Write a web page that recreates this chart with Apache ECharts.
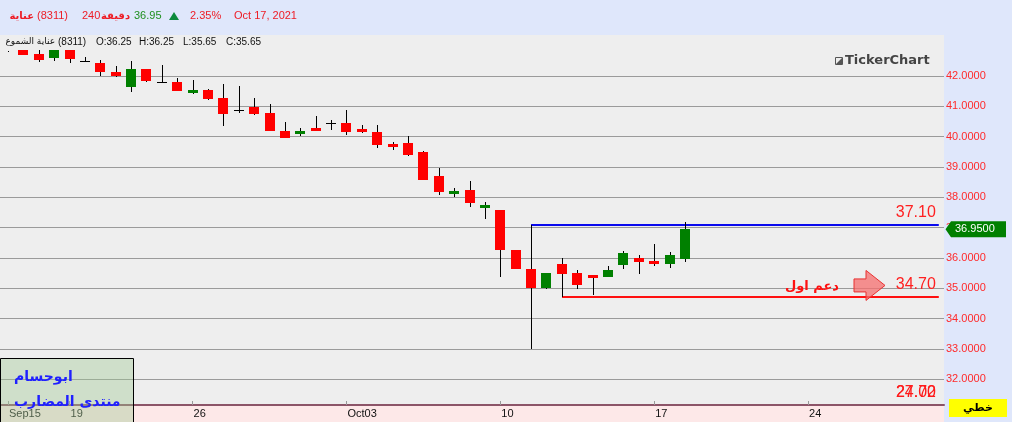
<!DOCTYPE html>
<html><head><meta charset="utf-8">
<script src="https://cdn.jsdelivr.net/npm/echarts@6/dist/echarts.min.js"></script>
<style>
html,body{margin:0;padding:0;background:#dfe7fb;overflow:hidden;}
#bgPlot{position:absolute;left:0;top:35px;width:944px;height:370px;background:#eeeeee;}
#bgAxis{position:absolute;left:0;top:405px;width:944px;height:17px;background:#fde8e8;}
#chart{position:absolute;left:0;top:0;width:1012px;height:422px;}
</style></head><body>
<div id="bgPlot"></div><div id="bgAxis"></div><div id="chart"></div>
<script>
// ---------- data ----------
const slotCount = 61; // 240-minute bars shown plus empty future slots
const dateTicks = [[0,'Sep15'],[4,'19'],[12,'26'],[22,'Oct03'],[32,'10'],[42,'17'],[52,'24']];
const opens  = [42.83,42.86,42.72,42.59,42.86,42.50,42.43,42.13,41.64,42.23,41.79,41.80,41.44,41.54,41.27,40.87,40.98,40.78,40.19,40.10,40.29,40.45,40.45,40.25,40.15,39.76,39.79,39.49,38.70,38.11,38.24,37.65,37.58,36.26,35.64,35.01,35.80,35.50,35.44,35.38,35.77,36.00,35.90,35.80,35.97];
const highs  = [42.83,42.86,42.86,42.86,42.86,42.62,42.53,42.33,42.49,42.23,42.36,41.93,41.87,41.57,41.74,41.67,41.27,41.08,40.48,40.29,40.68,40.55,40.88,40.38,40.38,39.82,40.02,39.53,38.97,38.31,38.54,37.85,37.58,36.26,37.10,35.50,36.00,35.60,35.44,35.74,36.23,36.10,36.46,36.20,37.19];
const lows   = [42.83,42.70,42.47,42.50,42.43,42.46,42.00,41.97,41.47,41.80,41.78,41.51,41.41,41.21,40.35,40.78,40.71,40.20,39.97,40.02,40.19,40.22,40.05,40.12,39.63,39.56,39.36,38.57,38.08,38.01,37.68,37.29,35.37,35.64,33.00,34.98,34.70,34.99,34.78,35.38,35.64,35.47,35.74,35.67,35.87];
const closes = [42.83,42.70,42.53,42.86,42.56,42.50,42.13,42.01,42.23,41.84,41.79,41.51,41.54,41.24,40.76,40.87,40.76,40.20,39.97,40.19,40.19,40.45,40.15,40.15,39.73,39.66,39.40,38.57,38.18,38.21,37.81,37.75,36.26,35.64,35.02,35.50,35.48,35.12,35.35,35.60,36.16,35.87,35.80,36.10,36.95];
const priceMin = 32, priceMax = 42, priceStep = 1;
const levelStarts = [34, 36];        // bar index where each drawn level starts
const levelValues = [37.10, 34.70];  // resistance, support
const lastPrice = 36.95;
const offChartLabels = ['24.00', '27.72'];

// ---------- styles / layout ----------
const levelColors = ['#0a0aee', '#ff1010'];
const UP = '#008000', DOWN = '#ff0000';
const plotTop = 35, plotBottom = 405, gridTopPx = 76, gridBottomPx = 379.33;
const ppu = (gridBottomPx - gridTopPx) / (priceMax - priceMin);
const candleYMax = priceMax + (gridTopPx - plotTop) / ppu;
const candleYMin = priceMin - (plotBottom - gridBottomPx) / ppu;
const tickMap = {}; dateTicks.forEach(t => tickMap[t[0]] = t[1]);
const slots = Array.from({length: slotCount}, (_, i) => String(i));
const candleData = opens.map((o, i) => [i, o, closes[i], lows[i], highs[i]]);
const levelData = levelValues.map((v, i) => [levelStarts[i], v]);

function renderCandle(params, api) {
  const i = api.value(0), o = api.value(1), c = api.value(2), l = api.value(3), h = api.value(4);
  const pO = api.coord([i, o]), pC = api.coord([i, c]), pL = api.coord([i, l]), pH = api.coord([i, h]);
  const bw = 10;
  const left = Math.round(pO[0] - bw / 2);
  const wx = left + 5;
  const children = [];
  if (h === l) {
    children.push({type: 'rect', shape: {x: wx, y: Math.round(pH[1]), width: 1, height: 1}, style: {fill: '#000'}});
    return {type: 'group', children};
  }
  children.push({type: 'rect', shape: {x: wx, y: Math.round(pH[1]), width: 1, height: Math.max(1, Math.round(pL[1]) - Math.round(pH[1]))}, style: {fill: '#000'}});
  if (o === c) {
    children.push({type: 'rect', shape: {x: left, y: Math.round(pO[1]), width: bw, height: 1}, style: {fill: '#000'}});
  } else {
    const top = Math.round(Math.min(pO[1], pC[1])), bot = Math.round(Math.max(pO[1], pC[1]));
    children.push({type: 'rect', shape: {x: left, y: top, width: bw, height: Math.max(1, bot - top)}, style: {fill: c > o ? UP : DOWN}});
  }
  return {type: 'group', children};
}

function renderLevel(params, api) {
  const i = api.value(0), v = api.value(1);
  const p = api.coord([i, v]);
  const right = params.coordSys.x + params.coordSys.width;
  const col = levelColors[params.dataIndex];
  const y = Math.round(p[1]);
  return {type: 'group', children: [
    {type: 'rect', shape: {x: Math.round(p[0]), y: y - 1, width: right - Math.round(p[0]), height: 2}, style: {fill: col}},
    {type: 'text', x: right - 3, y: y - 12, style: {text: v.toFixed(2), fill: '#ff2020', font: '16px "Liberation Sans", Arial, sans-serif', align: 'right', verticalAlign: 'middle'}}
  ]};
}

const chart = echarts.init(document.getElementById('chart'), null, {renderer: 'canvas'});
chart.setOption({
  backgroundColor: 'transparent',
  animation: false,
  grid: [
    {left: 0, right: 68, top: gridTopPx, bottom: 422 - gridBottomPx},
    {left: 0.3, right: 1012 - 0.3 - 938.5, top: plotTop, bottom: 422 - plotBottom}
  ],
  xAxis: [
    {gridIndex: 0, type: 'value', min: 0, max: 1, offset: plotBottom - gridBottomPx,
     axisLine: {show: true, lineStyle: {color: '#8c5468', width: 2}}, axisTick: {show: false}, axisLabel: {show: false}, splitLine: {show: false}},
    {gridIndex: 1, type: 'category', data: slots, boundaryGap: true,
     axisLine: {show: false},
     axisTick: {show: true, alignWithLabel: true, inside: true, length: 4, interval: (idx) => tickMap[idx] !== undefined, lineStyle: {color: '#999'}},
     axisLabel: {show: true, interval: (idx) => tickMap[idx] !== undefined, formatter: (val, idx) => tickMap[idx] || '',
       align: 'left', margin: 3, padding: [0, 0, 0, 1], color: '#111', fontSize: 11, fontFamily: 'Liberation Sans'},
     splitLine: {show: false}}
  ],
  yAxis: [
    {gridIndex: 0, type: 'value', position: 'right', min: priceMin, max: priceMax, interval: priceStep,
     axisLine: {show: false}, axisTick: {show: true, length: 5, lineStyle: {color: '#999'}},
     axisLabel: {color: '#ff2a2a', fontSize: 11, fontFamily: 'Liberation Sans', margin: 2, formatter: v => v.toFixed(4)},
     splitLine: {show: true, lineStyle: {color: '#9a9a9a', width: 1}}},
    {gridIndex: 1, type: 'value', min: candleYMin, max: candleYMax, show: false, splitLine: {show: false}}
  ],
  series: [
    {type: 'custom', name: 'candles', xAxisIndex: 1, yAxisIndex: 1, data: candleData, renderItem: renderCandle, encode: {x: 0, y: [1, 2, 3, 4]}, z: 5},
    {type: 'custom', name: 'levels', xAxisIndex: 1, yAxisIndex: 1, data: levelData, renderItem: renderLevel, encode: {x: 0, y: 1}, z: 4}
  ]
});

// decorations positioned from scales
const yLast = chart.convertToPixel({yAxisIndex: 0}, lastPrice);
const ySup = chart.convertToPixel({yAxisIndex: 1}, levelValues[1]);
const red = '#ee1c25';
const hf = '11px "Liberation Sans", "DejaVu Sans", sans-serif';
const lf = '10px "Liberation Sans", "DejaVu Sans", sans-serif';
function T(x, y, text, fill, font, align, z) {
  return {type: 'text', x, y, z: z || 20, style: {text, fill, font, align: align || 'left', verticalAlign: 'middle'}};
}
const ay = ySup - 12;
chart.setOption({graphic: [
  // header
  T(34, 16, 'عناية', red, 'bold 10px "DejaVu Sans", sans-serif', 'right'),
  T(37, 16, '(8311)', red, hf),
  T(82, 16, '240', red, hf),
  T(101, 16, 'دقيقة', red, 'bold 10px "DejaVu Sans", sans-serif'),
  T(134, 16, '36.95', '#1f8f1f', hf),
  {type: 'polygon', z: 20, shape: {points: [[169, 20], [174, 12], [179, 20]]}, style: {fill: '#0c8a3c'}},
  T(190, 16, '2.35%', red, hf),
  T(234, 16, 'Oct 17, 2021', red, hf),
  // info strip
  T(55, 42, 'عناية الشموع', '#111', '9px "DejaVu Sans", sans-serif', 'right'),
  T(58, 42, '(8311)', '#111', lf),
  T(96, 42, 'O:36.25', '#111', lf),
  T(139, 42, 'H:36.25', '#111', lf),
  T(183, 42, 'L:35.65', '#111', lf),
  T(226, 42, 'C:35.65', '#111', lf),
  // watermark
  {type: 'rect', z: 20, shape: {x: 835.5, y: 57.5, width: 7, height: 7}, style: {fill: 'none', stroke: '#555', lineWidth: 1}},
  {type: 'polygon', z: 20, shape: {points: [[836, 64], [842, 58], [842, 64]]}, style: {fill: '#555'}},
  T(845, 61, 'TickerChart', '#444', 'bold 13px "DejaVu Sans", sans-serif'),
  // support annotation
  T(839, ay + 1, 'دعم اول', '#ff1010', 'bold 13px "DejaVu Sans", sans-serif', 'right'),
  {type: 'polygon', z: 20, shape: {points: [[854, ay - 6.5], [866, ay - 6.5], [866, ay - 15], [885, ay], [866, ay + 15], [866, ay + 6.5], [854, ay + 6.5]]},
   style: {fill: 'rgba(245,110,110,0.75)', stroke: '#e83030', lineWidth: 1}},
  // off-chart level labels
  T(936, 393, offChartLabels[0], '#ff1a1a', '16px "Liberation Sans", sans-serif', 'right'),
  T(936, 393, offChartLabels[1], '#ff1a1a', '16px "Liberation Sans", sans-serif', 'right'),
  // last price tag
  {type: 'polygon', z: 30, shape: {points: [[945.5, yLast], [951, yLast - 8], [1006, yLast - 8], [1006, yLast + 8], [951, yLast + 8]]}, style: {fill: '#008000'}},
  T(955, yLast, lastPrice.toFixed(4), '#ffffff', '11px "Liberation Sans", sans-serif', 'left', 31),
  // chart type box
  {type: 'rect', z: 20, shape: {x: 949, y: 399, width: 58, height: 18}, style: {fill: '#ffff00'}},
  T(978, 408, 'خطي', '#000', 'bold 11px "DejaVu Sans", sans-serif', 'center'),
  // signature box
  {type: 'rect', z: 25, shape: {x: 0.5, y: 358.5, width: 133, height: 70}, style: {fill: 'rgba(160,200,148,0.4)', stroke: '#000', lineWidth: 1}},
  T(14, 377, 'ابوحسام', '#2020ff', 'bold 14px "DejaVu Sans", sans-serif', 'left', 26),
  T(14, 402, 'منتدى المضارب', '#2020ff', 'bold 14px "DejaVu Sans", sans-serif', 'left', 26)
]});
</script>
</body></html>
